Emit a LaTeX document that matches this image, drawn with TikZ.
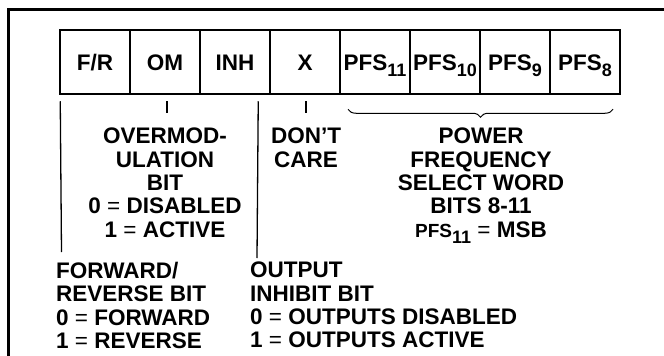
\documentclass[tikz,border=0pt]{standalone}
\usepackage{fontspec}
\setmainfont{Liberation Sans}
\usetikzlibrary{decorations.pathreplacing}
\newcommand{\subtxt}[1]{\raisebox{-6pt}{\fontsize{18}{18}\selectfont #1}}
\newcommand{\eqs}{{\mdseries =}}
\begin{document}
\begin{tikzpicture}[x=1pt,y=-1pt,
  cell/.style={draw,line width=2.5pt,minimum width=70pt,minimum height=64pt,inner sep=0pt,
    text height=16pt,text depth=0pt,font=\fontsize{22.5}{23.3}\selectfont\bfseries},
  lbl/.style={font=\fontsize{22.5}{23.3}\selectfont\bfseries,inner sep=0pt,align=center},
  lead/.style={line width=1.3pt},
  frame/.style={line width=3pt}]
\useasboundingbox (0,0) rectangle (664,356);
\draw[frame] (8,362) -- (8,9) -- (670,9);
% register cells
\node[cell] (fr)  at (95,62)  {F/R};
\node[cell] (om)  at (165,62) {OM};
\node[cell] (inh) at (235,62) {INH};
\node[cell] (xc)  at (305,62) {X};
\node[cell] (p11) at (375,62) {PFS\subtxt{11}};
\node[cell] (p10) at (445,62) {PFS\subtxt{10}};
\node[cell] (p9)  at (515,62) {PFS\subtxt{9}};
\node[cell] (p8)  at (585,62) {PFS\subtxt{8}};
% labels
\node[lbl,anchor=north] (omt) at (165,128) {OVERMOD-\\ULATION\\BIT\\0 \eqs{} DISABLED\\1 \eqs{} ACTIVE};
\node[lbl,anchor=north] (xt) at (306,128) {DON'T\\CARE};
\node[lbl,anchor=north] (pfst) at (481,128) {POWER\\FREQUENCY\\SELECT WORD\\BITS 8-11\\{\fontsize{19}{23}\selectfont PFS}\subtxt{11} \eqs{} MSB};
\node[lbl,anchor=north west,align=left] (frt) at (56,262) {FORWARD/\\REVERSE BIT\\0 \eqs{} FORWARD\\1 \eqs{} REVERSE};
\node[lbl,anchor=north west,align=left] (inht) at (250,262) {OUTPUT\\INHIBIT BIT\\0 \eqs{} OUTPUTS DISABLED\\1 \eqs{} OUTPUTS ACTIVE};
% leads
\draw[lead] ([xshift=1.5pt,yshift=-6pt]fr.south west) -- ([xshift=5.5pt,yshift=10pt]frt.north west);
\draw[lead] ([xshift=-13pt,yshift=-6pt]inh.south east) -- ([xshift=7pt,yshift=4pt]inht.north west);
\draw[lead] ([xshift=2pt,yshift=-6pt]om.south) -- ([xshift=2pt,yshift=-18pt]om.south);
\draw[lead] ([xshift=1pt,yshift=-6pt]xc.south) -- ([xshift=1pt,yshift=-18pt]xc.south);
\draw[line width=1pt,decorate,decoration={brace,mirror,amplitude=8pt}]
  ([xshift=-27pt,yshift=-14pt]p11.south) -- ([xshift=28pt,yshift=-14pt]p8.south);
\end{tikzpicture}
\end{document}
